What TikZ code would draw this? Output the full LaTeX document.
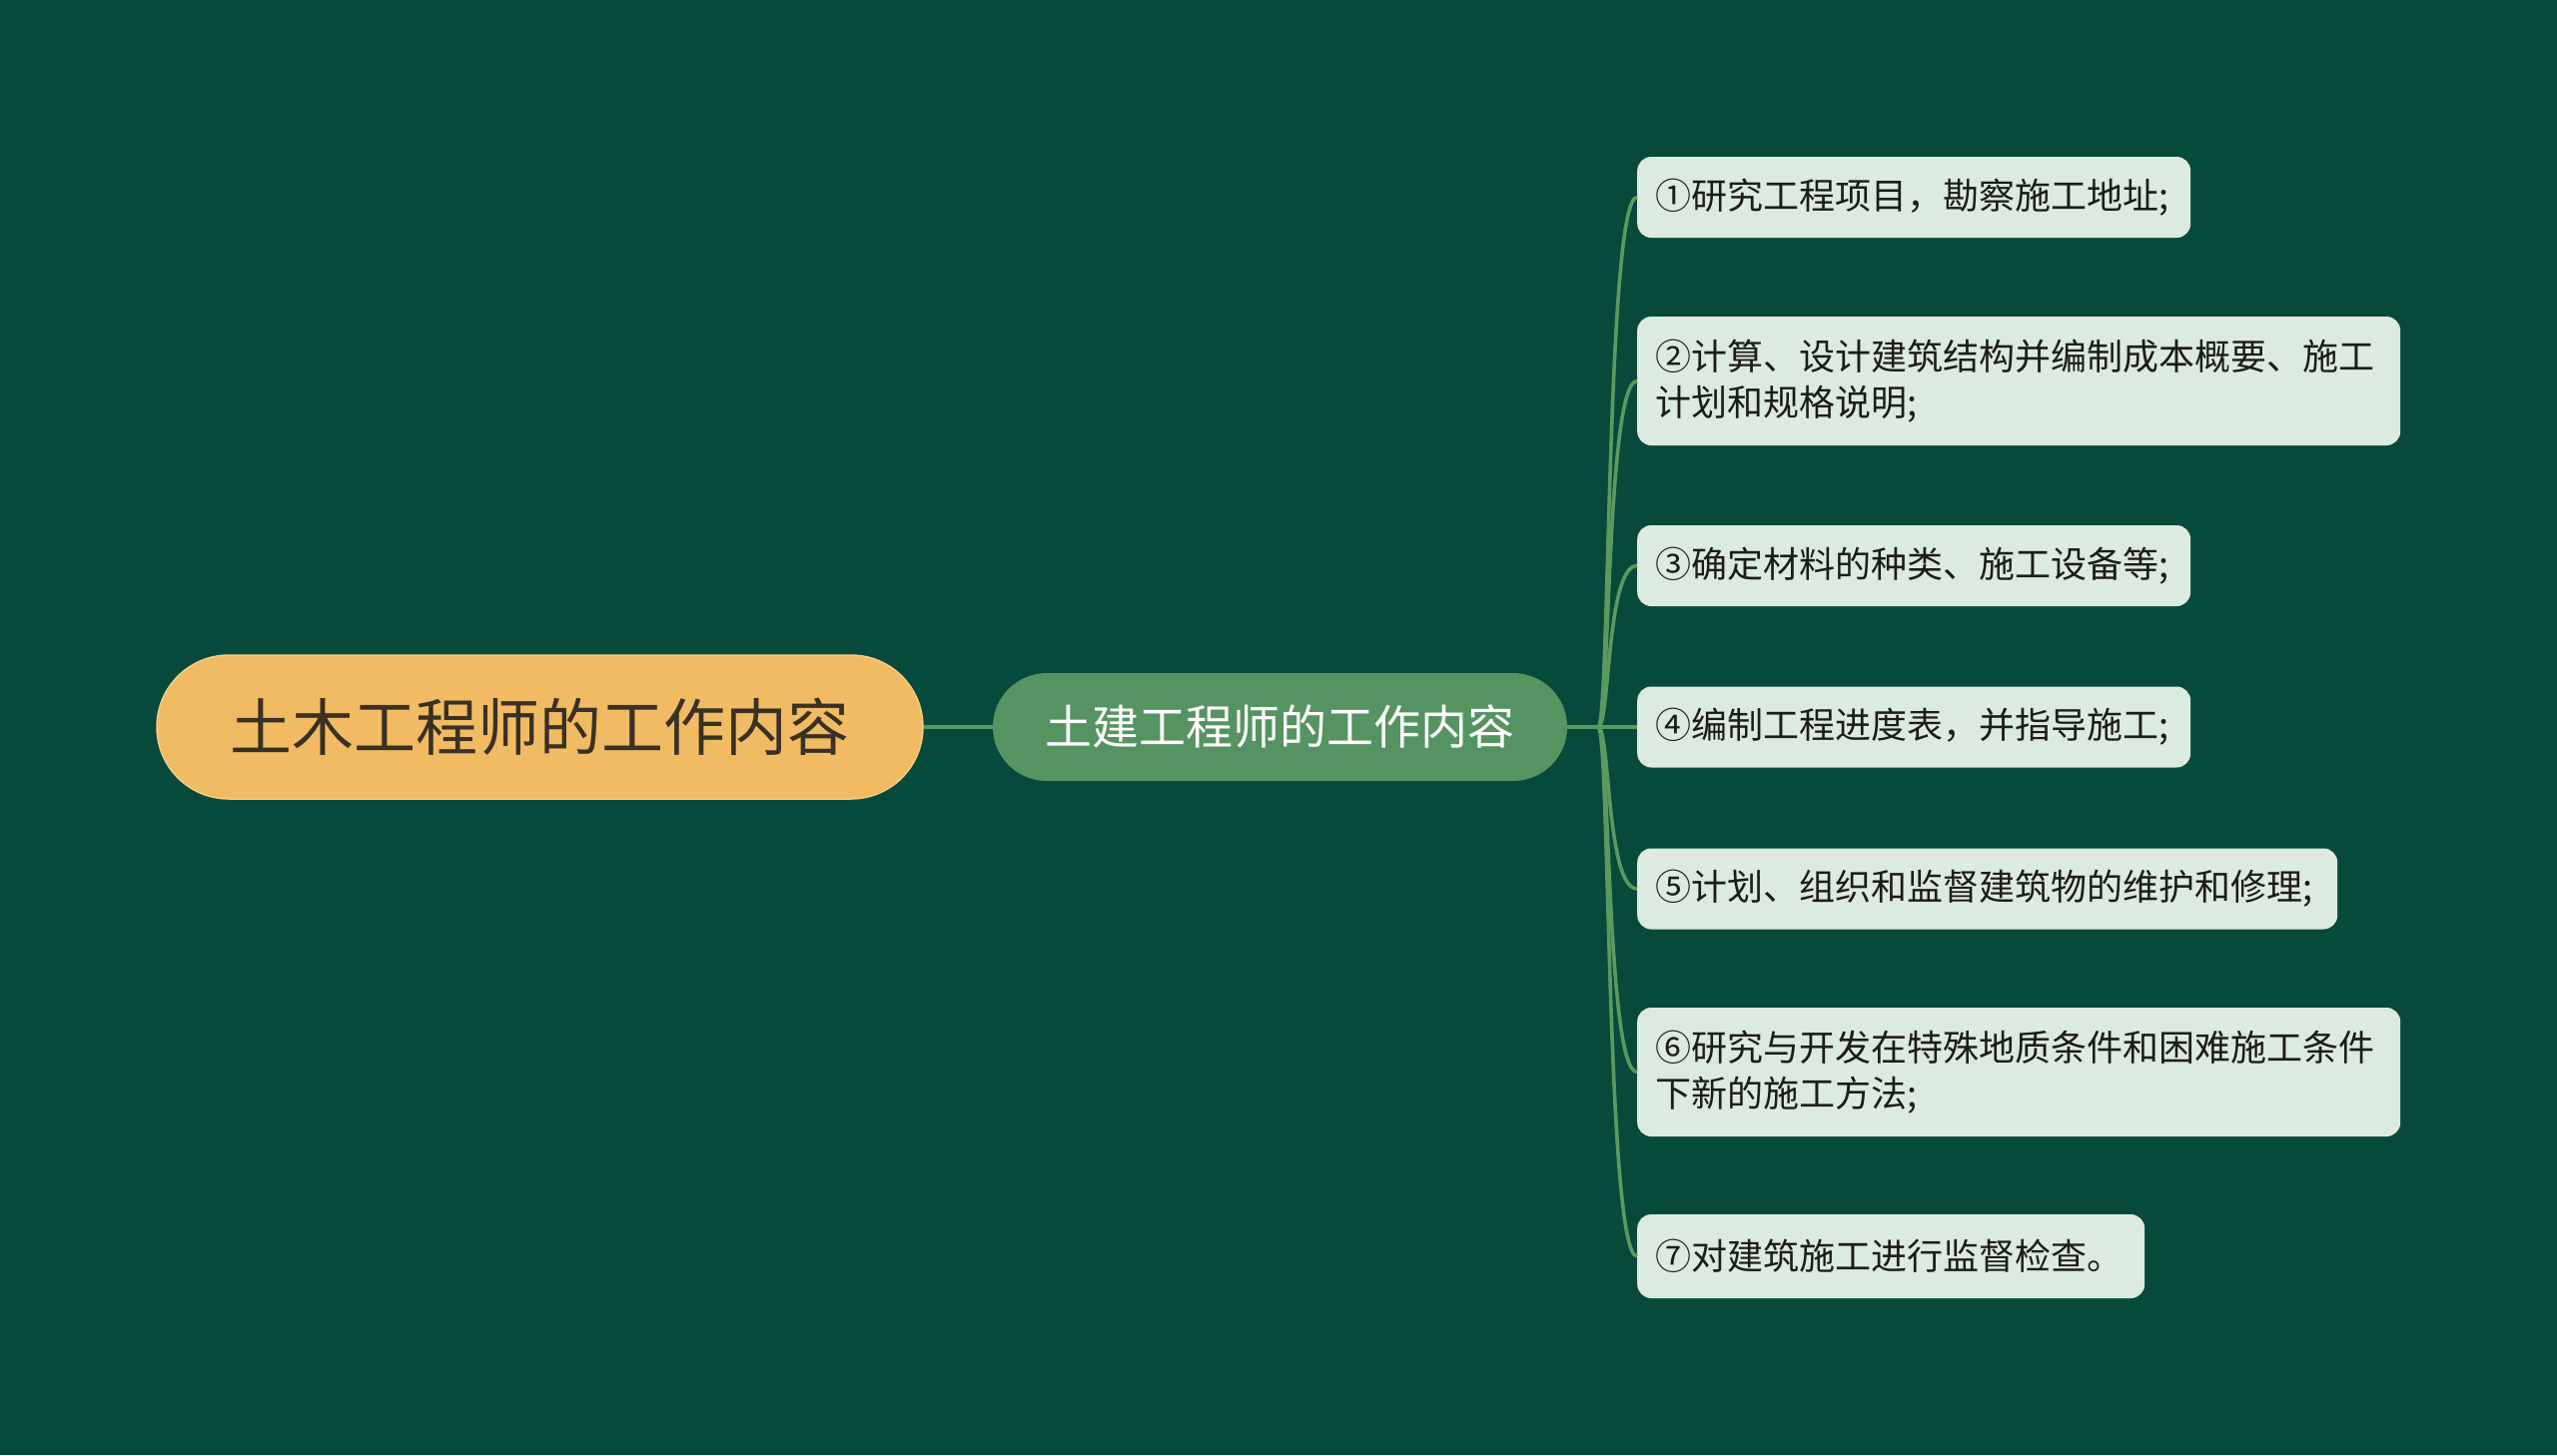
\documentclass[tikz,border=0pt]{standalone}
\usepackage{fontspec}
\setmainfont{Noto Sans CJK SC}
\definecolor{bg}{HTML}{07493A}
\definecolor{rootfill}{HTML}{F0BB63}
\definecolor{rootline}{HTML}{F6CD80}
\definecolor{roottext}{HTML}{3A3024}
\definecolor{midfill}{HTML}{559460}
\definecolor{leaffill}{HTML}{DDEADF}
\definecolor{leaftext}{HTML}{1C1C1C}
\definecolor{conn}{HTML}{5A9A60}
\begin{document}
\begin{tikzpicture}[x=1pt,y=-1pt,
  rootbox/.style={fill=rootfill, draw=rootline, line width=1.5pt, rounded corners=72pt,
    minimum width=767pt, minimum height=144pt, inner sep=0pt, text=roottext,
    font=\fontsize{62}{70}\selectfont},
  midbox/.style={fill=midfill, rounded corners=54pt, minimum width=575pt, minimum height=108pt,
    inner sep=0pt, text=white, font=\fontsize{47}{54}\selectfont},
  leafbox/.style={fill=leaffill, rounded corners=14pt, anchor=west, align=left,
    inner xsep=18pt, inner ysep=4pt, minimum height=81pt, text=leaftext,
    font=\fontsize{36}{46}\selectfont},
  link/.style={draw=conn, line width=3.6pt}]
\fill[bg] (0,0) rectangle (2560,1457);
\useasboundingbox (0,0) rectangle (2560,1457);

\node[rootbox] (root) at (540.5,728) {土木工程师的工作内容};
\node[midbox] (mid) at (1281.5,728) {土建工程师的工作内容};

\node[leafbox, text width=518pt] (l1) at (1639,197.5) {①研究工程项目，勘察施工地址;};
\node[leafbox, text width=728pt, minimum height=129pt] (l2) at (1639,381.5) {②计算、设计建筑结构并编制成本概要、施工\\计划和规格说明;};
\node[leafbox, text width=518pt] (l3) at (1639,566.5) {③确定材料的种类、施工设备等;};
\node[leafbox, text width=518pt] (l4) at (1639,728) {④编制工程进度表，并指导施工;};
\node[leafbox, text width=665pt] (l5) at (1639,890) {⑤计划、组织和监督建筑物的维护和修理;};
\node[leafbox, text width=728pt, minimum height=129pt] (l6) at (1639,1073.5) {⑥研究与开发在特殊地质条件和困难施工条件\\下新的施工方法;};
\node[leafbox, text width=472pt, minimum height=84pt] (l7) at (1639,1258) {⑦对建筑施工进行监督检查。};

\coordinate (hub) at (1600,728);
\draw[link] (root.east) -- (mid.west);
\draw[link] (mid.east) -- (hub);
\foreach \n in {l1,l2,l3,l4,l5,l6,l7}{
  \draw[link] (hub) .. controls (1612,728) and ([xshift=-31pt]\n.west) .. (\n.west);
}
\end{tikzpicture}
\end{document}
